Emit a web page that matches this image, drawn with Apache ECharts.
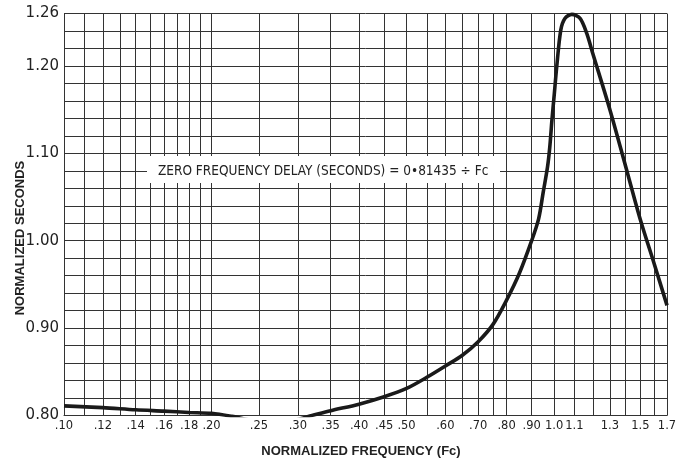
<!DOCTYPE html>
<html>
<head>
<meta charset="utf-8">
<script src="https://cdn.jsdelivr.net/npm/echarts@6/dist/echarts.min.js"></script>
<style>
html,body{margin:0;padding:0;background:#fff;}
#chart{width:688px;height:464px;}
</style>
</head>
<body>
<div id="chart"></div>
<script>
// ---- data ----
const freq = [0.10,0.12,0.14,0.16,0.18,0.20,0.22,0.25,0.28,0.315,0.35,0.40,0.45,0.50,0.55,0.60,0.65,0.70,0.75,0.80,0.85,0.90,0.93,0.95,0.97,0.98,0.99,1.00,1.013,1.032,1.053,1.087,1.13,1.166,1.20,1.30,1.40,1.50,1.60,1.70];
const seconds = [0.811,0.809,0.8065,0.805,0.8035,0.8025,0.799,0.793,0.792,0.799,0.8055,0.813,0.8215,0.831,0.8437,0.8566,0.869,0.8845,0.904,0.932,0.963,1.000,1.025,1.055,1.085,1.107,1.138,1.165,1.20,1.241,1.2545,1.259,1.2545,1.2373,1.214,1.15,1.085,1.024,0.974,0.926];

const gridFreqs = [0.10,0.11,0.12,0.13,0.14,0.15,0.16,0.17,0.18,0.19,0.20,0.25,0.30,0.35,0.40,0.45,0.50,0.55,0.60,0.65,0.70,0.75,0.80,0.90,1.0,1.1,1.2,1.3,1.4,1.5,1.6,1.7];
const tickValues = [0.10,0.12,0.14,0.16,0.18,0.20,0.25,0.30,0.35,0.40,0.45,0.50,0.60,0.70,0.80,0.90,1.0,1.1,1.3,1.5,1.7];
const tickLabels = ['.10','.12','.14','.16','.18','.20','.25','.30','.35','.40','.45','.50','.60','.70','.80','.90','1.0','1.1','1.3','1.5','1.7'];

const yLabelValues = [0.80,0.90,1.00,1.10,1.20,1.26];

const xAxisName = 'NORMALIZED FREQUENCY (Fc)';
const yAxisName = 'NORMALIZED SECONDS';
const annotation = 'ZERO FREQUENCY DELAY (SECONDS) = 0\u202281435 \u00F7 Fc';

// ---- chart ----
const chart = echarts.init(document.getElementById('chart'));

const labelMap = {};
tickValues.forEach((v, i) => { labelMap[v.toFixed(2)] = tickLabels[i]; });
const gridLineData = gridFreqs.map(v => {
  const t = labelMap[v.toFixed(2)];
  return { xAxis: v, label: { show: !!t, formatter: t || '' } };
});

const ink = '#222';
const gridColor = '#333';

const option = {
  animation: false,
  backgroundColor: '#fff',
  grid: { left: 64, right: 21, top: 13.5, bottom: 48.5, containLabel: false },
  xAxis: {
    type: 'log', logBase: 10, min: 0.1, max: 1.7,
    axisLine: { show: true, lineStyle: { color: gridColor, width: 1 } },
    axisTick: { show: false },
    axisLabel: { show: false },
    splitLine: { show: false },
    minorTick: { show: false },
    minorSplitLine: { show: false }
  },
  yAxis: {
    type: 'value', min: 0.80, max: 1.26, interval: 0.02,
    axisLine: { show: true, lineStyle: { color: gridColor, width: 1 } },
    axisTick: { show: false },
    splitLine: { show: true, lineStyle: { color: gridColor, width: 1 } },
    axisLabel: {
      margin: 5,
      color: ink,
      fontSize: 15,
      fontFamily: 'DejaVu Sans',
      formatter: v => yLabelValues.some(t => Math.abs(t - v) < 1e-6) ? v.toFixed(2) : ''
    }
  },
  series: [
    {
      name: 'grid', type: 'line', data: [], silent: true, z: 1,
      markLine: {
        silent: true, animation: false,
        symbol: ['none', 'none'],
        lineStyle: { color: gridColor, width: 1, type: 'solid' },
        label: { position: 'start', distance: 5, color: ink, fontSize: 11.5, fontFamily: 'DejaVu Sans' },
        emphasis: { disabled: true },
        data: gridLineData
      }
    },
    {
      name: 'delay', type: 'line', z: 5,
      data: freq.map((f, i) => [f, seconds[i]]),
      smooth: 0.3,
      showSymbol: false,
      clip: true,
      lineStyle: { color: '#1a1a1a', width: 3.6 }
    }
  ],
  graphic: [
    { type: 'rect', z: 100, shape: { x: 147, y: 156, width: 353, height: 27 }, style: { fill: '#fff' } },
    { type: 'text', z: 101, x: 158, y: 171,
      style: { text: annotation, fontSize: 13.5, fontFamily: '"Liberation Sans Narrow", "DejaVu Sans Condensed", sans-serif', fill: ink, align: 'left', verticalAlign: 'middle' } },
    { type: 'text', z: 101, x: 361, y: 451,
      style: { text: xAxisName, fontSize: 13, fontWeight: 'bold', fontFamily: '"Liberation Sans", sans-serif', fill: ink, align: 'center', verticalAlign: 'middle' } },
    { type: 'text', z: 101, x: 20, y: 238, rotation: Math.PI / 2,
      style: { text: yAxisName, fontSize: 13, fontWeight: 'bold', fontFamily: '"Liberation Sans", sans-serif', fill: ink, align: 'center', verticalAlign: 'middle' } }
  ]
};
chart.setOption(option);
</script>
</body>
</html>
